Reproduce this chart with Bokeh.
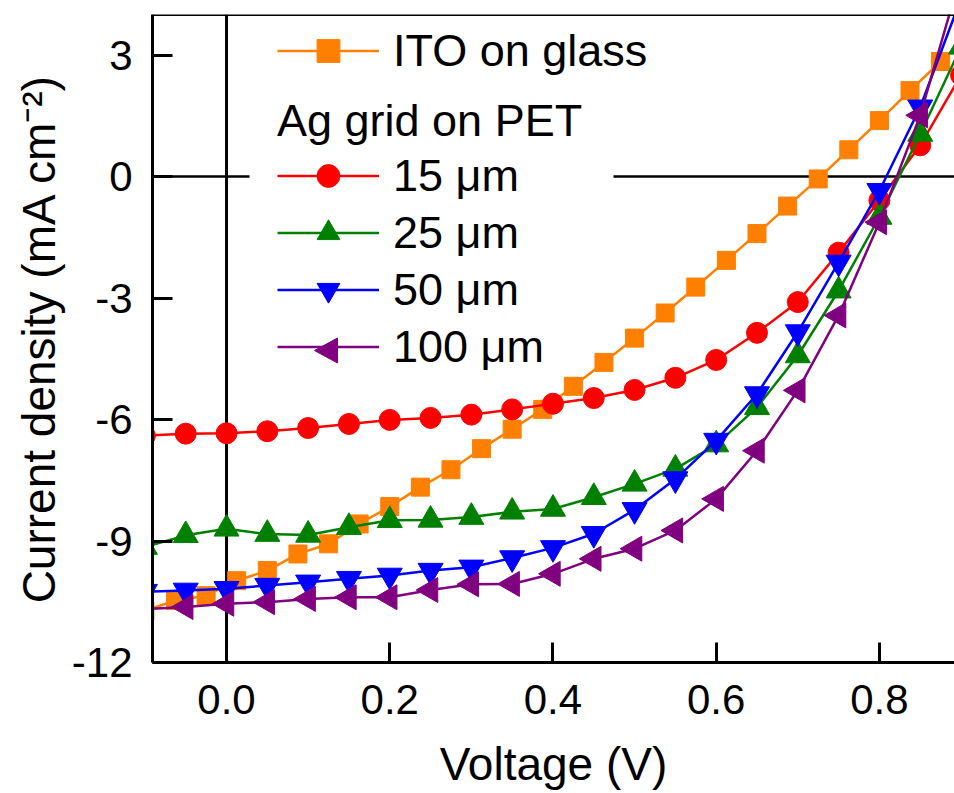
import numpy as np
from bokeh.plotting import figure
from bokeh.models import (Range1d, FixedTicker, Span, Legend, LegendItem,
                          PrintfTickFormatter, PolyAnnotation, BoxAnnotation)
from bokeh.embed import file_html
from bokeh.resources import INLINE

# ---------------- data ----------------
ito_v = [-0.1, -0.0625, -0.025, 0.0125, 0.05, 0.0875, 0.125, 0.1625, 0.2, 0.2375,
         0.275, 0.3125, 0.35, 0.3875, 0.425, 0.4625, 0.5, 0.5375, 0.575, 0.6125,
         0.65, 0.6875, 0.725, 0.7625, 0.8, 0.8375, 0.875, 0.9125]
ito_j = [-10.72, -10.47, -10.35, -9.98, -9.73, -9.32, -9.07, -8.58, -8.15, -7.67,
         -7.24, -6.72, -6.24, -5.75, -5.18, -4.59, -3.99, -3.37, -2.73, -2.07,
         -1.41, -0.73, -0.06, 0.66, 1.38, 2.12, 2.84, 3.55]

pet_v = [-0.1, -0.05, 0.0, 0.05, 0.1, 0.15, 0.2, 0.25, 0.3, 0.35, 0.4,
         0.45, 0.5, 0.55, 0.6, 0.65, 0.7, 0.75, 0.8, 0.85, 0.9]
j_15um = [-6.40, -6.35, -6.34, -6.29, -6.21, -6.11, -6.01, -5.96, -5.88, -5.75, -5.61,
          -5.47, -5.27, -4.97, -4.53, -3.86, -3.10, -1.88, -0.59, 0.77, 2.50]
j_25um = [-9.15, -8.86, -8.70, -8.83, -8.85, -8.66, -8.49, -8.48, -8.41, -8.28, -8.21,
          -7.92, -7.59, -7.22, -6.62, -5.70, -4.42, -2.82, -1.00, 1.05, 3.20]
j_50um = [-10.25, -10.22, -10.18, -10.10, -10.02, -9.93, -9.85, -9.73, -9.65, -9.42, -9.17,
          -8.82, -8.23, -7.47, -6.52, -5.37, -3.84, -2.12, -0.35, 1.71, 4.40]
j_100um = [-10.68, -10.63, -10.55, -10.51, -10.43, -10.39, -10.39, -10.21, -10.07, -10.06, -9.81,
           -9.44, -9.19, -8.74, -7.96, -6.77, -5.28, -3.43, -1.13, 1.51, 5.00]

x_ticks = [0.0, 0.2, 0.4, 0.6, 0.8]
y_ticks = [-12, -9, -6, -3, 0, 3]

FONT = "Liberation Sans"

p = figure(width=954, height=793, output_backend="svg", toolbar_location=None,
           x_range=Range1d(-0.0907, 0.892), y_range=Range1d(-12, 4),
           min_border_left=152, min_border_right=0, min_border_top=14, min_border_bottom=131)
p.outline_line_color = None
p.background_fill_color = "white"
p.border_fill_color = "white"
p.xgrid.visible = False
p.ygrid.visible = False

for ax in (p.xaxis[0], p.yaxis[0]):
    ax.axis_line_width = 3
    ax.major_tick_line_width = 3
    ax.major_tick_in = 20
    ax.major_tick_out = 0
    ax.minor_tick_line_color = None
    ax.major_label_text_font = FONT
    ax.major_label_text_font_size = "42px"
    ax.major_label_text_color = "black"
    ax.axis_label_text_font = FONT
    ax.axis_label_text_font_size = "46px"
    ax.axis_label_text_font_style = "normal"
    ax.axis_label_text_color = "black"

p.xaxis.ticker = FixedTicker(ticks=x_ticks)
p.xaxis.formatter = PrintfTickFormatter(format="%.1f")
p.yaxis.ticker = FixedTicker(ticks=y_ticks)
p.yaxis.formatter = PrintfTickFormatter(format="%d")
p.xaxis.axis_label = "Voltage (V)"
p.yaxis.axis_label = "Current density (mA cm\u207b\u00b2)"
p.xaxis.major_label_standoff = 22
p.yaxis.major_label_standoff = 20
p.xaxis.axis_label_standoff = 21
p.yaxis.axis_label_standoff = 4

# reference lines and top border
zero_h = Span(location=0, dimension="width", line_color="black", line_width=2.5, level="underlay")
zero_v = Span(location=0, dimension="height", line_color="black", line_width=3, level="underlay")
top_b = Span(location=4, dimension="width", line_color="black", line_width=3)
p.add_layout(zero_h)
p.add_layout(zero_v)
p.add_layout(top_b)
# white patch behind the legend block, interrupting the zero line as in the original
gap = BoxAnnotation(left=249, right=613, left_units="canvas", right_units="canvas",
                    top=0.4, bottom=-0.4, fill_color="white", fill_alpha=1.0,
                    line_color=None, level="underlay")
p.add_layout(gap)

LW = 2.5
series = [
    (ito_v, ito_j, "#FF8000", "square", 18, 0.0, "ITO on glass"),
    (pet_v, j_15um, "#FF0000", "circle", 21, 0.0, "15 \u03bcm"),
    (pet_v, j_25um, "#008000", "triangle", 25, 0.0, "25 \u03bcm"),
    (pet_v, j_50um, "#0000FF", "inverted_triangle", 25, 0.0, "50 \u03bcm"),
    (pet_v, j_100um, "#800080", "triangle", 25, np.pi / 2, "100 \u03bcm"),
]
items = []
for xs, ys, col, mk, sz, ang, lab in series:
    lr = p.line(xs, ys, line_color=col, line_width=LW)
    sr = p.scatter(xs, ys, marker=mk, size=sz, angle=ang, fill_color=col, line_color=col)
    # the legend cannot rotate a marker, so the left-pointing one is drawn separately
    rs = [lr] if ang else [lr, sr]
    items.append(LegendItem(label=lab, renderers=rs))

def style(lg):
    lg.label_text_font = FONT
    lg.label_text_font_size = "45px"
    lg.label_text_color = "black"
    lg.glyph_width = 102
    lg.glyph_height = 57
    lg.label_standoff = 14
    lg.spacing = 0
    lg.border_line_color = None
    lg.background_fill_alpha = 0.0
    lg.margin = 0

leg2 = Legend(items=items[1:], location=(125, 287), title="Ag grid on PET")
style(leg2)
leg2.padding = 27
leg2.title_text_font = FONT
leg2.title_text_font_size = "45px"
leg2.title_text_font_style = "normal"
leg2.title_text_color = "black"
leg2.title_standoff = 0

leg1 = Legend(items=items[:1], location=(125, 583))
style(leg1)
leg1.padding = 10

p.add_layout(leg2)
p.add_layout(leg1)

# left-pointing legend symbol of the 100 um entry (canvas pixels)
sym_x = [314, 337, 337]
sym_y = [350, 337.5, 362.5]
sym = PolyAnnotation(xs=sym_x, ys=sym_y, xs_units="canvas", ys_units="canvas",
                     fill_color="#800080", fill_alpha=1.0, line_color="#800080",
                     line_alpha=1.0, line_width=1)
p.add_layout(sym)

open("out.html", "w").write(file_html(p, INLINE))
